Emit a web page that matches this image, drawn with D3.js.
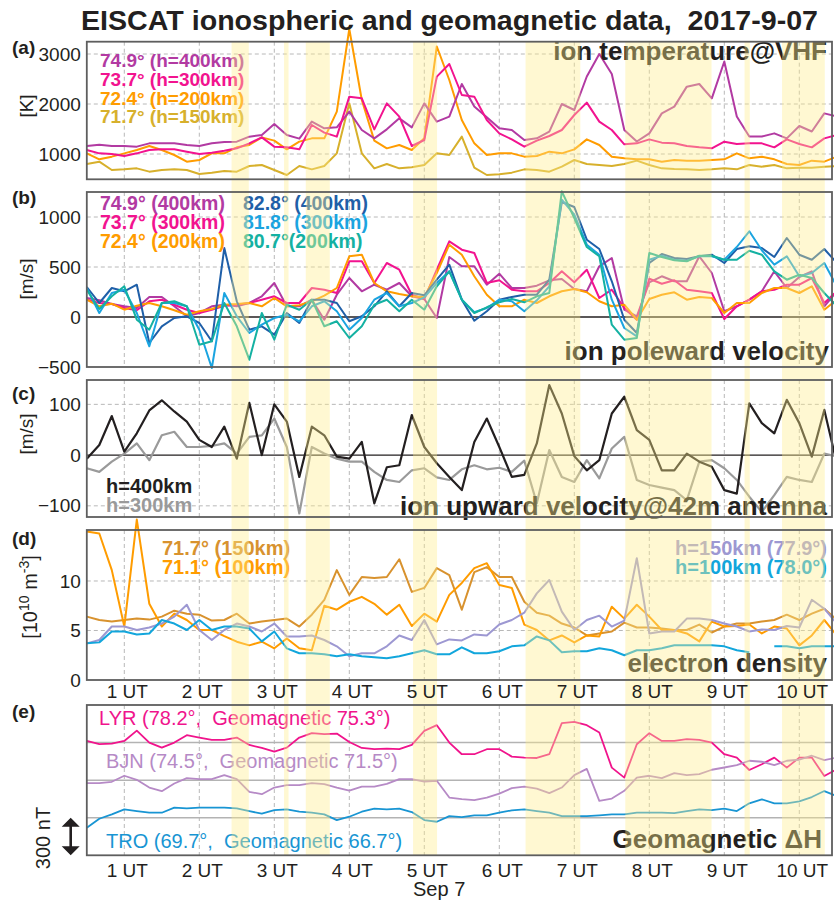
<!DOCTYPE html>
<html><head><meta charset="utf-8">
<script src="https://cdn.jsdelivr.net/npm/d3@7"></script>
<style>
body{margin:0;background:#fff}
text{font-family:"Liberation Sans",Arial,Helvetica,sans-serif;fill:#231f20;white-space:pre}
</style>
</head><body>
<svg id="c" width="834" height="905"></svg>
<script>
// ---------- time axis (UT hours), 10-minute samples ----------
const tStartUT = 0.5, tStepMin = 10, nSamples = 61;
const hourTicks = [1,2,3,4,5,6,7,8,9,10];
const hourLabels = hourTicks.map(h => h + " UT");
// shaded intervals (UT hours)
const bandStart = [2.43, 3.13, 3.42, 4.85, 6.35, 7.68, 9.27, 9.77];
const bandEnd   = [2.66, 3.19, 3.74, 5.17, 7.08, 8.83, 9.34, 10.34];

// ---------- (a) ion temperature [K] ----------
const tiLat = ["74.9° (h=400km)", "73.7° (h=300km)", "72.4° (h=200km)", "71.7° (h=150km)"];
const ti749 = [1160,1187,1160,1160,1147,1213,1213,1213,1180,1160,1213,1240,1247,1347,1380,1600,1380,1307,1647,1513,1533,1847,1480,1313,1493,1713,1533,2013,1647,1747,
               2400,1950,1733,1513,1480,1280,1313,1447,2000,1880,2550,3000,2600,1480,1250,1413,1813,1947,2347,2400,2113,2850,1750,1350,1350,1413,1313,1560,1450,1813,1750];
const ti737 = [1080,1013,1000,960,1013,1080,1093,1093,1047,1000,1027,1067,1113,1213,1333,1147,1133,1093,1580,1427,1347,2147,2113,1493,2013,1747,1160,1280,2547,2800,
               2180,2147,1680,1413,1293,1147,1267,1360,1480,1780,2027,1647,1480,1193,1213,1293,1227,1213,1160,1133,1113,1247,1200,1213,1213,1133,1293,1200,1133,1313,1380];
const ti724 = [1013,893,947,1013,1080,1160,1080,980,847,880,1013,1013,1133,1180,1333,1267,1093,1247,1313,1313,1847,3500,2080,1267,1113,1180,1080,1313,3150,2480,
               1680,1213,980,1013,1013,947,960,1047,1013,1093,1293,1180,947,913,893,893,847,880,867,867,880,893,1013,913,947,893,800,780,867,847,947];
const ti717 = [800,847,680,693,713,647,680,693,680,600,627,660,647,760,780,680,580,760,693,760,1013,2013,1013,713,800,713,733,780,1013,980,
               1347,727,580,593,627,693,680,647,747,880,800,780,760,800,867,780,713,700,693,680,693,713,693,780,747,780,713,727,727,747,760];
const tiTicks = [1000, 2000, 3000];

// ---------- (b) ion poleward velocity [m/s] ----------
const pvLat = ["74.9° (400km)", "73.7° (300km)", "72.4° (200km)", "82.8° (400km)", "81.8° (300km)", "80.7°(200km)"];
const pv749 = [190,167,130,107,90,200,200,107,7,40,107,123,107,140,207,340,107,107,173,-27,223,390,257,323,273,340,207,
               180,-10,600,507,507,323,433,290,290,313,367,380,280,257,507,590,73,7,347,407,357,357,607,440,57,107,173,257,457,290,400,457,107,257];
const pv737 = [173,140,130,90,67,157,173,123,73,40,73,113,123,140,173,207,140,140,290,273,240,557,557,340,540,473,223,
               180,473,757,673,640,340,367,273,257,257,340,457,347,473,190,273,90,-27,383,333,367,273,257,240,-20,107,173,257,273,323,323,390,140,257];
const pv724 = [173,107,133,73,113,140,107,67,23,57,80,123,130,140,107,190,107,117,157,213,290,607,623,340,257,230,207,
               197,440,723,623,407,223,107,107,173,140,207,257,280,247,157,107,123,-27,180,223,247,173,200,190,40,140,140,240,290,290,240,307,73,173];
const pv828 = [300,140,290,257,323,-260,-93,-10,7,-60,-243,690,157,-127,-93,-177,40,-60,173,173,140,-43,7,107,257,107,240,
               217,373,523,173,-37,57,173,200,223,223,373,1150,1100,773,680,357,-27,-160,540,630,590,580,607,623,540,680,707,690,600,790,623,573,680,540];
const pv818 = [290,40,240,273,40,-293,140,140,107,-127,-510,240,7,-160,-77,-10,23,-43,107,157,57,-127,-10,173,240,107,140,
               197,340,457,173,47,90,173,157,57,167,307,1173,1023,723,623,173,-110,-193,573,613,573,563,607,607,573,700,857,667,523,607,407,440,540,307];
const pv807 = [273,80,207,307,-27,-127,140,157,107,-277,-243,140,-93,-427,40,-227,123,73,173,-93,-43,-210,-93,123,173,57,173,
               73,307,457,173,40,97,147,180,147,207,240,1257,990,700,607,-77,-227,-210,640,600,567,557,613,613,573,573,663,623,457,373,423,390,240,107];
const pvTicks = [-500, 0, 500, 1000];

// ---------- (c) ion upward velocity [m/s] ----------
const uvLabels = ["h=400km", "h=300km"];
const uv400 = [-7,20,77,7,43,88,108,86,66,30,16,56,-7,103,0,100,66,-43,56,39,-3,-7,26,-95,-24,-20,79,
               16,-16,-43,-69,26,72,16,-43,-39,23,138,82,-2,-30,-10,82,115,49,30,-30,-30,3,-13,-23,-69,-76,102,63,43,109,63,-3,89,-16];
const uv300 = [-26,-33,-13,3,23,-10,39,46,16,16,18,23,3,36,39,72,16,-115,16,3,-7,-13,-13,-33,-49,-53,-30,
               -26,-44,-49,-28,-20,-28,-25,-33,-11,-95,10,-43,-53,-10,-46,13,36,-49,-59,-64,-69,-89,-13,-10,-26,-49,-82,-112,-79,-43,-49,-53,3,-3];
const uvTicks = [-100, 0, 100];

// ---------- (d) electron density [1e10 m^-3] ----------
const neLabels = ["71.7° (150km)", "71.1° (100km)", "h=150km (77.9°)", "h=100km (78.0°)"];
const ne717 = [6.4,6.06,5.9,6.06,6.2,6.1,6.4,7.0,6.7,6.6,6.0,6.06,6.7,5.7,5.9,6.06,6.2,5.4,6.6,8.1,11.1,8.6,10.4,10.3,10.4,12.2,8.9,
               9.3,11.3,10.6,7.1,10.9,11.4,10.4,10.4,7.9,6.8,6.5,5.7,5.3,4.5,4.7,4.9,5.8,5.3,5.3,5.2,5.05,5.05,5.6,4.8,5.4,5.7,5.7,5.9,6.06,6.6,6.06,6.7,7.2,6.06];
const ne711 = [15.0,14.8,11.1,5.4,16.2,7.7,5.4,6.7,6.06,5.05,5.05,4.44,3.87,3.5,3.87,3.2,4.2,3.2,3.0,7.5,7.1,7.9,8.4,7.7,6.6,7.6,5.45,
               6.7,5.9,8.6,9.8,11.3,11.8,9.6,9.3,5.6,5.05,4.0,4.5,3.8,4.5,4.4,7.4,6.2,7.6,6.4,5.05,5.05,4.7,3.9,5.9,5.4,5.45,5.6,4.7,5.4,5.2,3.5,4.5,6.06,4.5];
const ne779 = [3.7,4.04,5.4,5.4,5.05,5.3,5.7,6.4,7.6,5.05,4.04,5.05,5.7,5.4,4.9,5.7,4.4,4.4,4.5,4.04,3.4,2.4,2.7,2.7,3.4,4.5,4.04,
               6.06,3.6,4.1,4.0,4.6,4.5,5.6,6.06,6.8,8.75,10.1,6.9,5.05,6.06,6.5,5.4,6.0,12.3,4.7,4.9,4.9,6.2,6.2,6.06,5.7,5.4,4.9,5.1,5.05,5.45,5.3,8.1,7.2,5.7];
const ne780 = [3.7,3.8,4.9,4.9,4.6,4.7,6.06,5.7,5.05,6.06,5.05,5.4,5.4,5.2,3.9,4.9,3.2,2.7,2.7,2.6,2.4,2.6,2.4,2.3,2.2,2.4,2.7,
               3.0,2.6,2.6,3.3,2.7,2.7,2.9,3.4,3.5,4.4,4.0,2.8,2.9,2.9,3.2,3.0,2.5,3.0,3.0,3.2,3.5,3.5,3.5,3.5,3.4,3.0,2.8,null,3.4,3.4,3.2,3.4,3.4,3.4];
const neTicks = [0, 5, 10];

// ---------- (e) geomagnetic dH [nT], relative to each station's baseline ----------
const magLabels = ["LYR (78.2°,  Geomagnetic 75.3°)", "BJN (74.5°,  Geomagnetic 71.5°)", "TRO (69.7°,  Geomagnetic 66.7°)"];
const magOffset = [600, 300, 0];
const dhLYR = [13,-13,-8,13,95,0,-40,0,59,40,21,21,40,-19,-43,-72,-40,40,75,67,72,5,-43,-53,-48,-53,-19,
               93,139,0,-93,-93,-53,-53,-112,-120,-123,-93,155,165,139,80,-200,-280,-13,75,13,13,27,21,0,-93,-120,-219,-173,-120,-200,-120,-120,-267,-213];
const dhBJN = [-24,-24,-13,35,3,-59,-88,-27,16,8,8,40,8,-93,-112,-59,-40,-40,-24,-32,-59,-83,-51,-51,-29,8,8,
               -11,-5,-139,-152,-160,-139,-107,-64,-51,-67,-104,-59,40,90,-165,-147,-85,21,35,16,56,40,48,83,101,120,155,147,120,155,163,195,160,181];
const dhTRO = [-80,-8,27,67,53,40,40,80,75,80,80,80,75,53,32,61,67,48,40,27,-19,8,48,72,67,72,45,
               -19,-32,13,5,19,19,40,59,67,53,40,13,13,13,19,27,27,40,40,40,37,53,67,61,72,53,115,147,115,115,131,165,213,173];

// ---------- colours ----------
const C = {purple:"#b23aa2", magenta:"#f2138f", orange:"#ff9c00", gold:"#d7b02c",
           dblue:"#1f5fa8", lblue:"#1ba4e0", teal:"#14b1a2", black:"#231f20", gray:"#9a9a9a",
           brown:"#d8922e", lav:"#9d98d2", cyan:"#12a6dc",
           lyr:"#f0148c", bjn:"#b68ac6", tro:"#1895d3"};

const times = d3.range(nSamples).map(i => tStartUT + i * tStepMin / 60);
const svg = d3.select("#c");
const X0 = 86.8, X1 = 832;
const x = d3.scaleLinear().domain([0.5, 10.436]).range([X0, X1]);

const panels = [
  {key:"a", top:41.7, bottom:179.3, domain:[494, 3246], ticks:tiTicks, grid:[1000,2000,3000], zero:false,
   series:[[ti717,C.gold],[ti724,C.orange],[ti749,C.purple],[ti737,C.magenta]], lw:2},
  {key:"b", top:192, bottom:367, domain:[-500, 1250], ticks:pvTicks, grid:[500,1000], zero:true,
   series:[[pv749,C.purple],[pv737,C.magenta],[pv724,C.orange],[pv828,C.dblue],[pv818,C.lblue],[pv807,C.teal]], lw:2},
  {key:"c", top:380, bottom:517, domain:[-122, 148], ticks:uvTicks, grid:[-100,100], zero:true,
   series:[[uv300,C.gray],[uv400,C.black]], lw:2.2},
  {key:"d", top:530, bottom:680, domain:[0, 15.15], ticks:neTicks, grid:[5,10], zero:false,
   series:[[ne717,C.brown],[ne711,C.orange],[ne779,C.lav],[ne780,C.cyan]], lw:2},
  {key:"e", top:705, bottom:855.3, domain:[-300, 900], ticks:[], grid:[], zero:false, series:[], lw:1.8}
];
panels.forEach(p => p.y = d3.scaleLinear().domain(p.domain).range([p.bottom, p.top]));

const gGrid = svg.append("g"), gData = svg.append("g"), gText = svg.append("g");
const gBand = svg.append("g"), gFrame = svg.append("g"), gAxis = svg.append("g");

panels.forEach(p => {
  gGrid.selectAll(null).data(hourTicks).enter().append("line")
    .attr("x1", d => x(d)).attr("x2", d => x(d)).attr("y1", p.top).attr("y2", p.bottom)
    .attr("stroke", "#b8b8b8").attr("stroke-width", 1).attr("stroke-dasharray", "4,3");
  gGrid.selectAll(null).data(p.grid).enter().append("line")
    .attr("x1", X0).attr("x2", X1).attr("y1", d => p.y(d)).attr("y2", d => p.y(d))
    .attr("stroke", "#b8b8b8").attr("stroke-width", 1).attr("stroke-dasharray", "4,3");
  if (p.zero) gGrid.append("line").attr("x1", X0).attr("x2", X1)
    .attr("y1", p.y(0)).attr("y2", p.y(0)).attr("stroke", "#231f20").attr("stroke-width", 1.3);
  const line = d3.line().defined(d => d.v != null).x(d => x(d.t)).y(d => p.y(d.v));
  p.series.forEach(([vals, col]) => {
    gData.append("path").datum(vals.map((v, i) => ({t: times[i], v})))
      .attr("d", line).attr("fill", "none").attr("stroke", col)
      .attr("stroke-width", p.lw).attr("stroke-linejoin", "round");
  });
  if (p.ticks.length) {
    const ax = gAxis.append("g").attr("transform", `translate(${X0},0)`)
      .call(d3.axisLeft(p.y).tickValues(p.ticks).tickSize(0).tickPadding(6).tickFormat(d3.format("d")));
    ax.select(".domain").remove();
    ax.selectAll("text").style("font-size", "19px").attr("fill", "#231f20");
  }
  gFrame.append("rect").attr("x", X0).attr("y", p.top).attr("width", X1 - X0).attr("height", p.bottom - p.top)
    .attr("fill", "none").attr("stroke", "#5e5e5e").attr("stroke-width", 1.8);
});

// panel (e) magnetometer traces
const pE = panels[4];
magOffset.forEach(off => {
  gGrid.append("line").attr("x1", X0).attr("x2", X1).attr("y1", pE.y(off)).attr("y2", pE.y(off))
    .attr("stroke", "#b3b3b3").attr("stroke-width", 1.5);
});
const lineE = d3.line().x(d => x(d.t)).y(d => pE.y(d.v));
[[dhLYR, magOffset[0], C.lyr], [dhBJN, magOffset[1], C.bjn], [dhTRO, magOffset[2], C.tro]].forEach(([vals, off, col]) => {
  gData.append("path").datum(vals.map((v, i) => ({t: times[i], v: v + off})))
    .attr("d", lineE).attr("fill", "none").attr("stroke", col).attr("stroke-width", 1.8).attr("stroke-linejoin", "round");
});

// ---------- texts inside panels ----------
function txt(g, s, xx, yy, opt) {
  const t = g.append("text").attr("x", xx).attr("y", yy).text(s)
    .style("font-size", (opt.size || 20) + "px").style("font-weight", opt.bold ? "bold" : "normal")
    .attr("text-anchor", opt.anchor || "start");
  if (opt.fill) t.style("fill", opt.fill);
  return t;
}
const aCols = [C.purple, C.magenta, C.orange, C.gold];
tiLat.forEach((s, i) => txt(gText, s, 100, 66.7 + i * 18.9, {bold:true, size:19, fill:aCols[i]}));
txt(gText, "ion temperature@VHF", 827, 60, {bold:true, size:26, anchor:"end"});

const bCols = [C.purple, C.magenta, C.orange, C.dblue, C.lblue, C.teal];
pvLat.forEach((s, i) => txt(gText, s, i < 3 ? 100 : 243, 210 + (i % 3) * 19.2, {bold:true, size:19.5, fill:bCols[i]}));
txt(gText, "ion poleward velocity", 829, 360, {bold:true, size:26, anchor:"end"});

txt(gText, uvLabels[0], 106, 493, {bold:true, size:20, fill:C.black});
txt(gText, uvLabels[1], 106, 512, {bold:true, size:20, fill:C.gray});
txt(gText, "ion upward velocity@42m antenna", 400, 515, {bold:true, size:26});

txt(gText, neLabels[0], 162, 555, {bold:true, size:20, fill:C.brown});
txt(gText, neLabels[1], 162, 574, {bold:true, size:20, fill:C.orange});
txt(gText, neLabels[2], 827, 555, {bold:true, size:20, fill:C.lav, anchor:"end"});
txt(gText, neLabels[3], 827, 574, {bold:true, size:20, fill:C.cyan, anchor:"end"});
txt(gText, "electron density", 827, 672, {bold:true, size:26, anchor:"end"});

txt(gText, magLabels[0], 99, 725, {size:20, fill:C.lyr});
txt(gText, magLabels[1], 106, 768, {size:20, fill:C.bjn});
txt(gText, magLabels[2], 106, 848, {size:20, fill:C.tro});
txt(gText, "Geomagnetic \u0394H", 822, 848, {bold:true, size:26, anchor:"end"});

// ---------- shaded intervals (overlay) ----------
gBand.selectAll("rect").data(bandStart.map((s, i) => [s, bandEnd[i]])).enter().append("rect")
  .attr("x", d => x(d[0])).attr("width", d => x(d[1]) - x(d[0]))
  .attr("y", panels[0].top).attr("height", pE.bottom - panels[0].top)
  .attr("fill", "rgb(255,237,140)").attr("fill-opacity", 0.39);

// ---------- x axes ----------
[[panels[3], 5], [pE, 8]].forEach(([p, pad]) => {
  const ax = gAxis.append("g").attr("transform", `translate(2.5,${p.bottom})`)
    .call(d3.axisBottom(x).tickValues(hourTicks).tickSize(0).tickPadding(pad).tickFormat((d, i) => hourLabels[i]));
  ax.select(".domain").remove();
  ax.selectAll("text").style("font-size", "19px").attr("fill", "#231f20");
});
txt(gAxis, "Sep 7", 413, 896, {size:20});

// ---------- y labels & panel letters ----------
function vlab(s, xx, yy) {
  return gAxis.append("text").attr("transform", `translate(${xx},${yy}) rotate(-90)`)
    .attr("text-anchor", "middle").style("font-size", "19px").text(s);
}
vlab("[K]", 33, 106);
vlab("[m/s]", 33, 279);
vlab("[m/s]", 33, 434);
const dl = gAxis.append("text").attr("transform", "translate(37,597) rotate(-90)")
  .attr("text-anchor", "middle").style("font-size", "20px");
dl.append("tspan").text("[10");
dl.append("tspan").attr("dy", -8).style("font-size", "14px").text("10");
dl.append("tspan").attr("dy", 8).text(" m");
dl.append("tspan").attr("dy", -8).style("font-size", "14px").text("-3");
dl.append("tspan").attr("dy", 8).text("]");
vlab("300 nT", 50, 838).style("font-size", "20px");

["(a)", "(b)", "(c)", "(d)", "(e)"].forEach((s, i) =>
  txt(gAxis, s, 12, [54, 204, 400, 545, 718][i], {bold:true, size:19}));

// 300 nT arrow
const ax0 = 70.7, ay0 = pE.y(0), ay1 = pE.y(-300);
gAxis.append("line").attr("x1", ax0).attr("x2", ax0).attr("y1", ay0 + 6).attr("y2", ay1 - 6)
  .attr("stroke", "#231f20").attr("stroke-width", 2.6);
gAxis.append("path").attr("d", `M${ax0},${ay0} L${ax0 - 9},${ay0 + 9} L${ax0 + 9},${ay0 + 9} Z M${ax0},${ay1} L${ax0 - 9},${ay1 - 9} L${ax0 + 9},${ay1 - 9} Z`)
  .attr("fill", "#231f20");

// title
txt(gAxis, "EISCAT ionospheric and geomagnetic data,  2017-9-07", 81, 29.5, {bold:true, size:27})
  .attr("textLength", 737).attr("lengthAdjust", "spacingAndGlyphs");
</script>
</body></html>
